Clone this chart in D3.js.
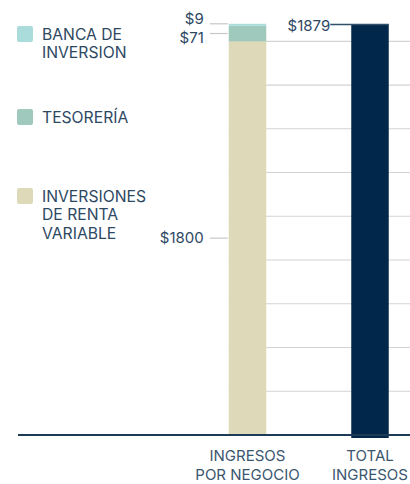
<!DOCTYPE html>
<meta charset="utf-8">
<style>
body { margin: 0; background: #fff; }
text { font-family: Inter, "Noto Sans", sans-serif; }
</style>
<svg width="410" height="484"></svg>
<script src="https://d3js.org/d3.v7.min.js"></script>
<script>

// data
var categories = [["INGRESOS", "POR NEGOCIO"], ["TOTAL", "INGRESOS"]];
var seriesNames = [["BANCA DE", "INVERSION"], ["TESORERÍA"], ["INVERSIONES", "DE RENTA", "VARIABLE"]];
var seriesKeys = ["banca", "tesoreria", "renta"];
var segmentValues = [1800, 71, 9];          // renta, tesoreria, banca (bottom to top)
var segmentKeys = ["renta", "tesoreria", "banca"];
var totalValue = 1879;
var gridTicks = [200, 400, 600, 800, 1000, 1200, 1400, 1600, 1800];

var colors = { banca: "#a9dcda", tesoreria: "#9fc9bd", renta: "#dedab9" };
var navy = "#01284a", textCol = "#2d4863";

var svg = d3.select("svg"),
    baseY = 435;

var y = d3.scaleLinear().domain([0, totalValue]).range([baseY, 24]);
var x = d3.scalePoint().domain(categories.map(function(d) { return d.join(" "); })).range([247.5, 370]);
var bw = 37.5;

// gridlines
svg.append("g").selectAll("line")
  .data(gridTicks).enter().append("line")
    .attr("x1", x(categories[0].join(" ")) - bw / 2)
    .attr("x2", 410)
    .attr("y1", function(d) { return y(d); })
    .attr("y2", function(d) { return y(d); })
    .attr("stroke", "#d3d3d3")
    .attr("stroke-width", 1.2);

// stacked bar
var stackRow = {};
segmentKeys.forEach(function(k, i) { stackRow[k] = segmentValues[i]; });
var stacked = d3.stack().keys(segmentKeys)([stackRow]);

var x1 = x(categories[0].join(" "));
svg.append("g").selectAll("rect")
  .data(stacked).enter().append("rect")
    .attr("x", x1 - bw / 2)
    .attr("width", bw)
    .attr("y", function(d) { return y(d[0][1]); })
    .attr("height", function(d) { return y(d[0][0]) - y(d[0][1]); })
    .attr("fill", function(d) { return colors[d.key]; });

// total bar
var x2 = x(categories[1].join(" "));
svg.append("rect")
  .attr("x", x2 - bw / 2)
  .attr("width", bw)
  .attr("y", y(totalValue))
  .attr("height", y(0) - y(totalValue) + 3)
  .attr("fill", navy);

// segment labels with leader lines
var labelDodge = { renta: 0, tesoreria: 4, banca: -6 };
var segLabels = svg.append("g");
stacked.forEach(function(s) {
  var mid = y((s[0][0] + s[0][1]) / 2);
  var lineY = s.key === "banca" ? y(s[0][1]) : mid;
  segLabels.append("line")
    .attr("x1", x1 - bw / 2 - 19).attr("x2", x1 - bw / 2 - 1)
    .attr("y1", lineY).attr("y2", lineY)
    .attr("stroke", "#c8c8c8").attr("stroke-width", 1.2);
  segLabels.append("text")
    .attr("x", x1 - bw / 2 - 25)
    .attr("y", mid + labelDodge[s.key])
    .attr("dy", "0.35em")
    .attr("text-anchor", "end")
    .attr("font-size", 15)
    .attr("fill", textCol)
    .text("$" + (s[0][1] - s[0][0]));
});

// total label
svg.append("line")
  .attr("x1", x2 - bw / 2 - 21).attr("x2", x2 + bw / 2)
  .attr("y1", y(totalValue) + 0.5).attr("y2", y(totalValue) + 0.5)
  .attr("stroke", "#33506b").attr("stroke-width", 1.5);
svg.append("text")
  .attr("x", x2 - bw / 2 - 21)
  .attr("y", y(totalValue) + 2)
  .attr("dy", "0.35em")
  .attr("text-anchor", "end")
  .attr("font-size", 15)
  .attr("fill", textCol)
  .text("$" + totalValue);

// baseline
svg.append("line")
  .attr("x1", 18).attr("x2", 410)
  .attr("y1", y(0)).attr("y2", y(0))
  .attr("stroke", "#1d3a57").attr("stroke-width", 2);

// x labels
var xl = svg.append("g").selectAll("text")
  .data(categories).enter().append("text")
    .attr("x", function(d) { return x(d.join(" ")); })
    .attr("y", 461)
    .attr("text-anchor", "middle")
    .attr("font-size", 15)
    .attr("fill", "#3b566f");
xl.selectAll("tspan")
  .data(function(d) { return d; }).enter().append("tspan")
    .attr("x", function() { return d3.select(this.parentNode).attr("x"); })
    .attr("dy", function(d, i) { return i ? 19 : 0; })
    .text(function(d) { return d; });

// legend
var legendY = [34, 117, 196];
var legend = svg.append("g").selectAll("g")
  .data(seriesKeys).enter().append("g")
    .attr("transform", function(d, i) { return "translate(17," + legendY[i] + ")"; });

legend.append("rect")
  .attr("y", -8).attr("width", 16).attr("height", 16)
  .attr("rx", 2)
  .attr("fill", function(d) { return colors[d]; });

legend.append("text")
  .attr("x", 25)
  .attr("dy", "0.35em")
  .attr("font-size", 15.7)
  .attr("fill", textCol)
  .selectAll("tspan")
  .data(function(d, i) { return seriesNames[i]; }).enter().append("tspan")
    .attr("x", 25)
    .attr("dy", function(d, i) { return i ? 19 : "0.35em"; })
    .text(function(d) { return d; });

</script>
